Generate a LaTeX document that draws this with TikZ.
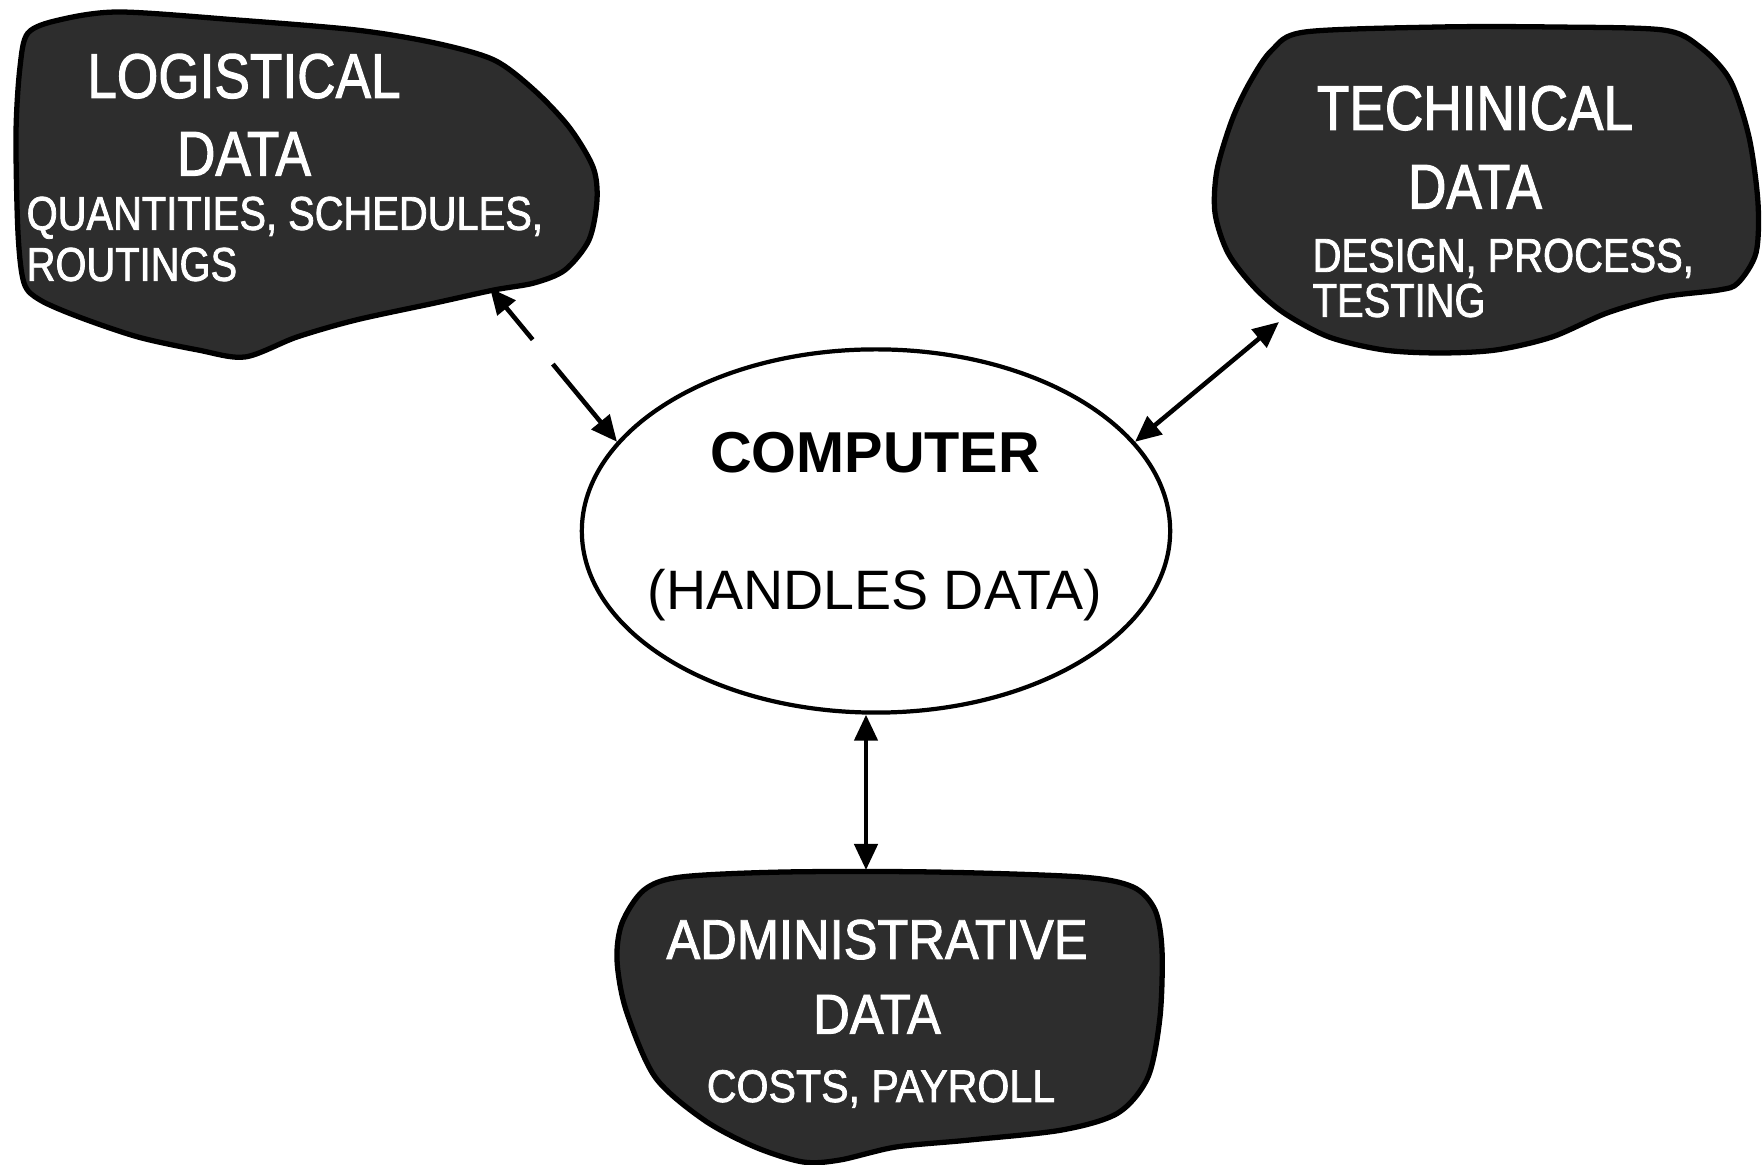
\documentclass[tikz,border=0pt]{standalone}
\usepackage{fontspec}
\setmainfont{Liberation Sans}
\newfontfamily\blobfont[FakeStretch=0.84,FakeBold=1.6]{Liberation Sans}
\newfontfamily\wideblobfont[FakeStretch=0.9,FakeBold=1.6]{Liberation Sans}
\usetikzlibrary{arrows.meta,positioning,shapes.geometric}
\definecolor{blobgray}{RGB}{45,45,45}
\tikzset{
  blob/.style={draw=black, line width=1.5pt, fill=blobgray},
  blobtitle/.style={text=white, inner sep=0pt, font=\blobfont\fontsize{18}{18}\selectfont},
  blobitems/.style={text=white, inner sep=0pt, align=left, font=\blobfont\fontsize{13.5}{14.5}\selectfont},
  hub/.style={ellipse, draw, line width=1.2pt, minimum width=5.88cm, minimum height=3.63cm, inner sep=0pt},
  hubtext/.style={inner sep=0pt, anchor=base},
  link/.style={{Triangle[length=2.6mm,width=2.3mm]}-{Triangle[length=2.6mm,width=2.3mm]}, line width=1.3pt},
}

\begin{document}
\begin{tikzpicture}[x=0.01cm, y=-0.01cm]
\useasboundingbox (0,0) rectangle (1763,1165);

\node[hub] (comp) at (876,531) {};
\node[hubtext, font=\bfseries\fontsize{16.4}{16}\selectfont] (comptitle) at (875,473) {COMPUTER};
\node[hubtext, font=\fontsize{15.8}{16}\selectfont] (comprole) at (875,610) {(HANDLES DATA)};

\draw[blob] plot[smooth cycle] coordinates {(28,33) (59,20) (119,12) (237,20) (356,30) (435,43) (494,60) (534,90) (569,127) (593,167) (597,200) (589,240) (565,270) (534,283) (494,290) (435,303) (356,320) (297,337) (245,357) (198,350) (138,337) (79,317) (40,300) (24,283) (18,233) (16,133) (20,67)};
\node[blobtitle, anchor=base] (logtitle) at (244,98) {LOGISTICAL};
\node[blobtitle, below=0.32cm of logtitle] (logdata) {DATA};
\node[blobitems, anchor=north west] (logitems) at (26,196) {QUANTITIES, SCHEDULES,\\ROUTINGS};

\draw[blob] plot[smooth cycle] coordinates {(1305,32) (1440,27) (1552,27) (1663,30) (1700,47) (1730,80) (1749,137) (1758,203) (1756,253) (1738,283) (1719,290) (1663,297) (1607,313) (1552,337) (1496,350) (1440,353) (1384,350) (1329,337) (1284,313) (1254,287) (1228,253) (1215,213) (1217,170) (1232,120) (1250,82) (1272,50)};
\node[blobtitle, anchor=base] (techtitle) at (1475,130) {TECHINICAL};
\node[blobtitle, below=0.33cm of techtitle] (techdata) {DATA};
\node[blobitems, anchor=north west, font=\blobfont\fontsize{13.5}{12.8}\selectfont] (techitems) at (1312,238) {DESIGN, PROCESS,\\TESTING};

\draw[blob] plot[smooth cycle] coordinates {(622,923) (644,890) (681,877) (785,872) (933,872) (1081,877) (1133,887) (1155,910) (1162,950) (1160,1017) (1148,1077) (1118,1113) (1062,1130) (970,1140) (896,1147) (840,1160) (803,1162) (755,1147) (704,1120) (655,1077) (626,1010) (617,960)};
\node[blobtitle, anchor=base, font=\wideblobfont\fontsize{16}{16}\selectfont] (admtitle) at (877,959) {ADMINISTRATIVE};
\node[blobtitle, below=0.34cm of admtitle, font=\wideblobfont\fontsize{16}{16}\selectfont] (admdata) {DATA};
\node[blobtitle, anchor=base, font=\wideblobfont\fontsize{13}{13}\selectfont] (admitems) at (881,1102) {COSTS, PAYROLL};

\coordinate (logport) at (490,288);
\coordinate (techport) at (1279,322);
\coordinate (admport) at (866,870);

\draw[link, dash pattern=on 12pt off 9pt on 200pt] (logport) -- (comp.161);
\draw[link] (techport) -- (comp.19);
\draw[link] (admport) -- (admport |- comp.south);
\end{tikzpicture}
\end{document}
